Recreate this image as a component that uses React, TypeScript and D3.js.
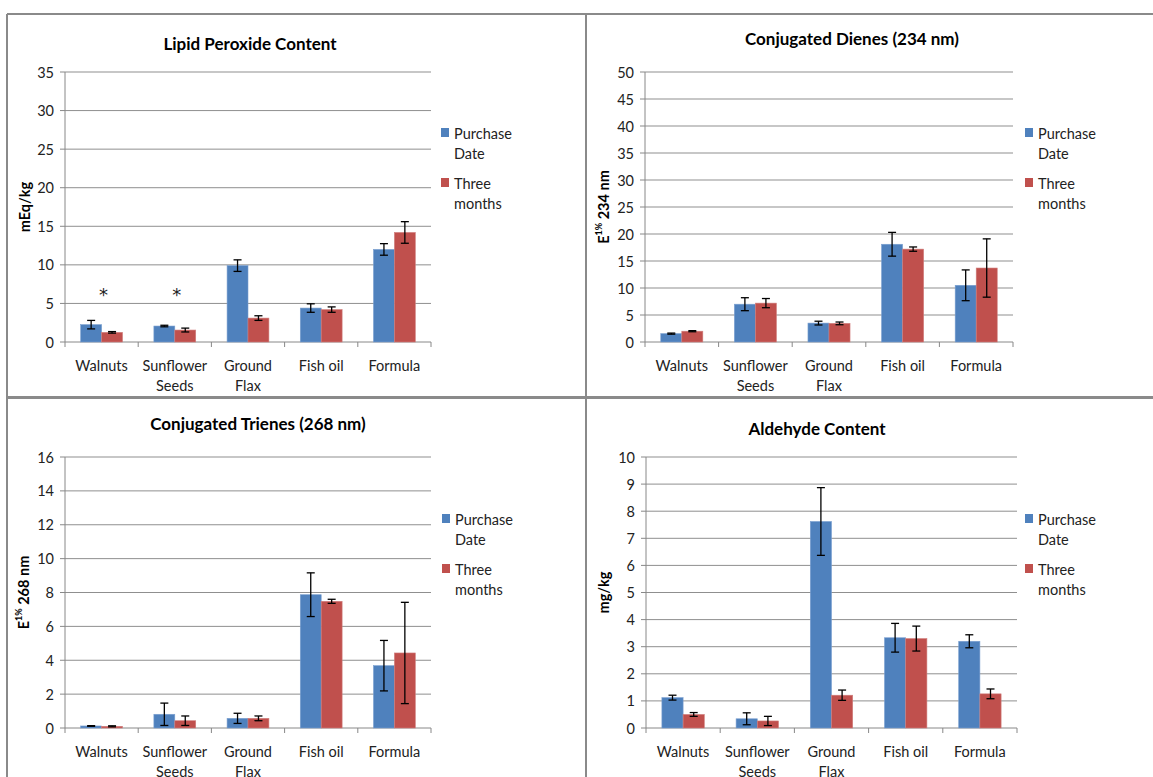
import React from "react";
import * as d3 from "d3";

const categories = [["Walnuts"], ["Sunflower", "Seeds"], ["Ground", "Flax"], ["Fish oil"], ["Formula"]];
const seriesNames = [["Purchase", "Date"], ["Three", "months"]];
const seriesColors = ["#4F81BD", "#C0504D"];

// Lipid peroxide (mEq/kg)
const lipidPurchase = [2.25, 2.07, 9.9, 4.4, 12.0];
const lipidPurchaseErr = [0.55, 0.1, 0.75, 0.55, 0.75];
const lipidThree = [1.25, 1.55, 3.1, 4.2, 14.2];
const lipidThreeErr = [0.1, 0.25, 0.3, 0.35, 1.4];
const lipidStars = ["*", "*", "", "", ""];
const lipidStarLevel = 6.5;

// Conjugated dienes
const dienesPurchase = [1.55, 7.0, 3.5, 18.1, 10.5];
const dienesPurchaseErr = [0.1, 1.2, 0.35, 2.2, 2.85];
const dienesThree = [2.0, 7.2, 3.45, 17.2, 13.7];
const dienesThreeErr = [0.1, 0.85, 0.25, 0.4, 5.4];

// Conjugated trienes
const trienesPurchase = [0.12, 0.81, 0.57, 7.87, 3.68];
const trienesPurchaseErr = [0.02, 0.66, 0.3, 1.29, 1.49];
const trienesThree = [0.1, 0.43, 0.57, 7.48, 4.43];
const trienesThreeErr = [0.03, 0.28, 0.14, 0.12, 2.99];

// Aldehyde (mg/kg)
const aldehydePurchase = [1.12, 0.34, 7.62, 3.33, 3.2];
const aldehydePurchaseErr = [0.09, 0.22, 1.25, 0.53, 0.24];
const aldehydeThree = [0.5, 0.26, 1.21, 3.3, 1.26];
const aldehydeThreeErr = [0.07, 0.17, 0.19, 0.46, 0.18];

const FONT = "Lato, 'Open Sans', Arial, sans-serif";

const e1 = (rest: string) => (
  <>
    E<tspan dy={-5} fontSize={9}>1%</tspan>
    <tspan dy={5}>{rest}</tspan>
  </>
);

const panels = [
  {
    title: "Lipid Peroxide Content", titleX: 250, titleY: 43,
    yLabel: <>mEq/kg</>, yLabelX: 24,
    values: [lipidPurchase, lipidThree], errs: [lipidPurchaseErr, lipidThreeErr],
    stars: lipidStars, starLevel: lipidStarLevel,
    yMax: 35, yStep: 5, x0: 65, x1: 431, yTop: 72, yBottom: 342, legendX: 441, legendY: 128,
  },
  {
    title: "Conjugated Dienes (234 nm)", titleX: 852, titleY: 38,
    yLabel: e1(" 234 nm"), yLabelX: 603,
    values: [dienesPurchase, dienesThree], errs: [dienesPurchaseErr, dienesThreeErr],
    yMax: 50, yStep: 5, x0: 645, x1: 1013, yTop: 72, yBottom: 342, legendX: 1025, legendY: 128,
  },
  {
    title: "Conjugated Trienes (268 nm)", titleX: 258, titleY: 423,
    yLabel: e1(" 268 nm"), yLabelX: 23,
    values: [trienesPurchase, trienesThree], errs: [trienesPurchaseErr, trienesThreeErr],
    yMax: 16, yStep: 2, x0: 65, x1: 431, yTop: 457, yBottom: 728, legendX: 442, legendY: 514,
  },
  {
    title: "Aldehyde Content", titleX: 817, titleY: 428,
    yLabel: <>mg/kg</>, yLabelX: 603,
    values: [aldehydePurchase, aldehydeThree], errs: [aldehydePurchaseErr, aldehydeThreeErr],
    yMax: 10, yStep: 1, x0: 646, x1: 1017, yTop: 457, yBottom: 728, legendX: 1025, legendY: 514,
  },
];

const Panel = ({ p }: { p: any }) => {
  const idx = d3.range(categories.length);
  const x = d3.scaleBand<number>().domain(idx).range([p.x0, p.x1]).padding(0);
  const xs = d3.scaleBand<number>().domain([0, 1]).range([0, x.bandwidth()]).paddingInner(0).paddingOuter(0.75);
  const y = d3.scaleLinear().domain([0, p.yMax]).range([p.yBottom, p.yTop]);
  const ticks = d3.range(0, p.yMax + p.yStep / 2, p.yStep);
  const bw = xs.bandwidth();
  const yMid = (p.yTop + p.yBottom) / 2;

  return (
    <g fontFamily={FONT}>
      <text x={p.titleX} y={p.titleY} textAnchor="middle" dominantBaseline="central" fontSize={17} fontWeight="bold" fill="#000">
        {p.title}
      </text>
      {/* gridlines + y ticks */}
      {ticks.map((t: number) => (
        <g key={t}>
          <line x1={p.x0} x2={p.x1} y1={y(t)} y2={y(t)} stroke={t === 0 ? "#888" : "#8f8f8f"} strokeWidth={1} />
          <line x1={p.x0 - 5} x2={p.x0} y1={y(t)} y2={y(t)} stroke="#888" />
          <text x={p.x0 - 11} y={y(t)} textAnchor="end" dominantBaseline="central" fontSize={14.5} fill="#222">
            {t}
          </text>
        </g>
      ))}
      <line x1={p.x0} x2={p.x0} y1={p.yTop} y2={p.yBottom} stroke="#888" />
      {/* category ticks */}
      {d3.range(categories.length + 1).map((i: number) => {
        const xx = i < categories.length ? (x(i) as number) : p.x1;
        return <line key={i} x1={xx} x2={xx} y1={p.yBottom} y2={p.yBottom + 5} stroke="#888" />;
      })}
      {/* bars */}
      {p.values.map((vals: number[], s: number) =>
        vals.map((v: number, i: number) => {
          const bx = (x(i) as number) + (xs(s) as number);
          return (
            <rect key={`${s}-${i}`} x={bx} y={y(v)} width={bw} height={p.yBottom - y(v)}
              fill={seriesColors[s]} stroke={s === 0 ? "#7a9fd0" : "#d07e7c"} strokeWidth={0.6} />
          );
        })
      )}
      {/* error bars */}
      {p.values.map((vals: number[], s: number) =>
        vals.map((v: number, i: number) => {
          const cx = (x(i) as number) + (xs(s) as number) + bw / 2;
          const e = p.errs[s][i];
          const yHi = y(v + e), yLo = y(Math.max(0, v - e));
          return (
            <g key={`e${s}-${i}`} stroke="#000" strokeWidth={1.3}>
              <line x1={cx} x2={cx} y1={yHi} y2={yLo} />
              <line x1={cx - 4} x2={cx + 4} y1={yHi} y2={yHi} />
              <line x1={cx - 4} x2={cx + 4} y1={yLo} y2={yLo} />
            </g>
          );
        })
      )}
      {/* significance marks */}
      {p.stars &&
        p.stars.map((st: string, i: number) =>
          st ? (
            <text key={`s${i}`} x={(x(i) as number) + x.bandwidth() / 2 + 2} y={y(p.starLevel)} textAnchor="middle"
              fontFamily="'DejaVu Sans', sans-serif" fontSize={18} fill="#222" dy={9}>
              {st}
            </text>
          ) : null
        )}
      {/* category labels */}
      {categories.map((lines: string[], i: number) => (
        <text key={`c${i}`} x={(x(i) as number) + x.bandwidth() / 2} y={p.yBottom + 23} textAnchor="middle"
          dominantBaseline="central" fontSize={14.5} fill="#222">
          {lines.map((l: string, j: number) => (
            <tspan key={j} x={(x(i) as number) + x.bandwidth() / 2} dy={j === 0 ? 0 : 20}>{l}</tspan>
          ))}
        </text>
      ))}
      {/* y title */}
      <text transform={`translate(${p.yLabelX},${yMid}) rotate(-90)`} textAnchor="middle" dominantBaseline="central"
        fontSize={14.5} fontWeight="bold" fill="#000">
        {p.yLabel}
      </text>
      {/* legend */}
      {seriesNames.map((lines: string[], s: number) => (
        <g key={`l${s}`}>
          <rect x={p.legendX} y={p.legendY + s * 50} width={8} height={9} fill={seriesColors[s]} />
          {lines.map((l: string, j: number) => (
            <text key={j} x={p.legendX + 13} y={p.legendY + 5 + s * 50 + j * 20} dominantBaseline="central" fontSize={14.5} fill="#222">
              {l}
            </text>
          ))}
        </g>
      ))}
    </g>
  );
};

export default function App() {
  return (
    <div style={{ position: "absolute", left: 0, top: 0 }}>
      <svg width={1153} height={777} style={{ display: "block", background: "#fff" }}>
        {/* panel frames */}
        <g stroke="#8a8a8a" strokeWidth={2}>
          <line x1={7} x2={1153} y1={14} y2={14} />
          <line x1={7} x2={7} y1={14} y2={777} />
          <line x1={586} x2={586} y1={14} y2={777} />
          <line x1={7} x2={1153} y1={397.5} y2={397.5} strokeWidth={3} />
        </g>
        {panels.map((p, i) => (
          <Panel key={i} p={p} />
        ))}
      </svg>
    </div>
  );
}
